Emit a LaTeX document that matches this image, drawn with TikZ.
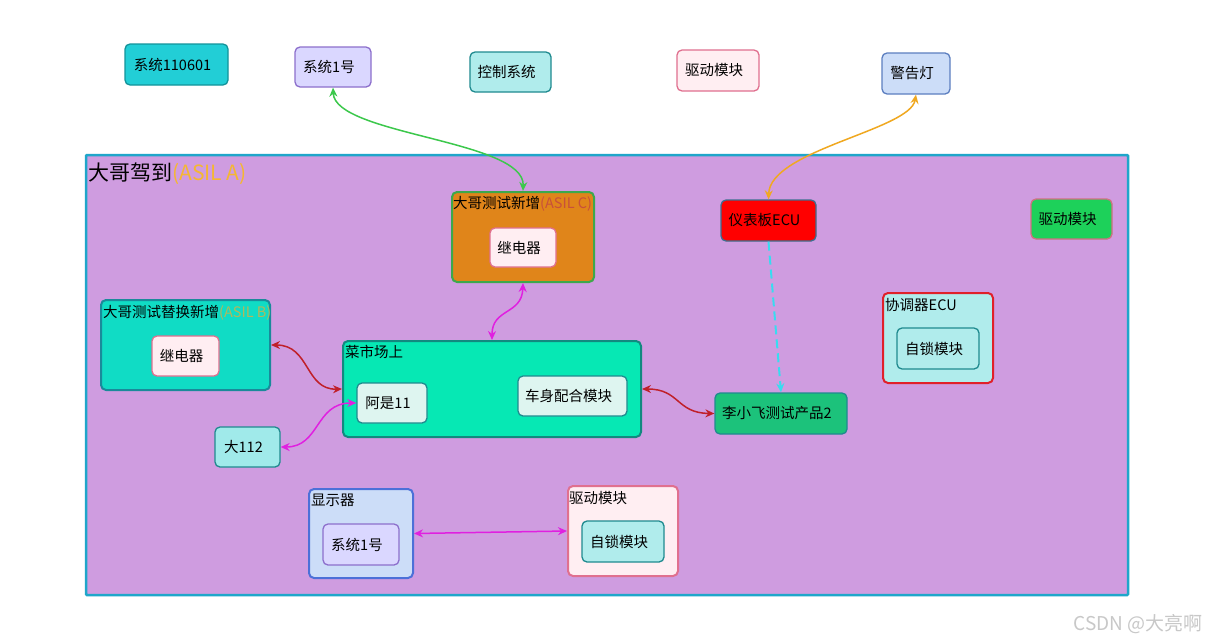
\documentclass[tikz,border=0pt]{standalone}
\usepackage{fontspec}
\setmainfont{Noto Sans CJK SC}
\usetikzlibrary{arrows.meta}
\definecolor{bigfill}{HTML}{CF9CE0}
\definecolor{bigline}{HTML}{1FA6CA}
\definecolor{asilA}{HTML}{F5B731}
\definecolor{asilB}{HTML}{B0B85C}
\definecolor{asilC}{HTML}{C8503A}
\definecolor{turq}{HTML}{22CED6}
\definecolor{turqd}{HTML}{13939A}
\definecolor{lav}{HTML}{DAD7FF}
\definecolor{lavd}{HTML}{8C6FCC}
\definecolor{pcyan}{HTML}{B0ECEC}
\definecolor{pcyand}{HTML}{1F8A8F}
\definecolor{pink}{HTML}{FFEEF2}
\definecolor{pinkd}{HTML}{E0708F}
\definecolor{lblue}{HTML}{CCDDF8}
\definecolor{lblued}{HTML}{5C7FC0}
\definecolor{dblue}{HTML}{4C70D8}
\definecolor{orng}{HTML}{E0851A}
\definecolor{grn}{HTML}{3DA84C}
\definecolor{ecured}{HTML}{FF0000}
\definecolor{ecub}{HTML}{3C6E8F}
\definecolor{drvg}{HTML}{1DD15A}
\definecolor{drvb}{HTML}{D0707F}
\definecolor{bfill}{HTML}{10DCC5}
\definecolor{bline}{HTML}{1A8A9A}
\definecolor{mint}{HTML}{06E8B4}
\definecolor{mintd}{HTML}{12897F}
\definecolor{lmint}{HTML}{DEF5F0}
\definecolor{lxf}{HTML}{1CC27B}
\definecolor{coord}{HTML}{E0202A}
\definecolor{d112}{HTML}{A0EAEA}
\definecolor{lgreen}{HTML}{3CC84C}
\definecolor{lorange}{HTML}{F0A820}
\definecolor{magen}{HTML}{E020E0}
\definecolor{dred}{HTML}{C0202A}
\definecolor{lcyan}{HTML}{38DCF0}
\definecolor{wm}{HTML}{C8C8C8}
\begin{document}
\begin{tikzpicture}[x=1pt,y=-1pt,
  box/.style={draw, rounded corners=5pt, line width=1.3pt, inner sep=0pt, text=black,
    font=\fontsize{14.5}{17}\selectfont, execute at end node={\hspace*{8pt}}},
  cont/.style={draw, rounded corners=5pt, line width=2pt, inner sep=0pt},
  ttl/.style={anchor=base west, inner sep=0pt, text=black, font=\fontsize{14.5}{17}\selectfont},
  link/.style={line width=1.5pt, {Stealth[length=9pt,width=8pt]}-{Stealth[length=9pt,width=8pt]}}
]
\useasboundingbox (0,0) rectangle (1207,640);
\fill[white] (0,0) rectangle (1207,640);

% big container
\node[draw=bigline, fill=bigfill, line width=2.5pt, rounded corners=1pt, minimum width=1042pt, minimum height=440pt, inner sep=0pt] (big) at (607,375) {};
\node[anchor=base west, inner sep=0pt, font=\fontsize{21}{25}\selectfont] (bigt) at (88,180) {大哥驾到\textcolor{asilA}{(ASIL A)}};

% top row
\node[box, fill=turq, draw=turqd, minimum width=103pt, minimum height=41pt] (s0) at (176.5,64.5) {系统110601};
\node[box, fill=lav, draw=lavd, minimum width=76pt, minimum height=40pt] (s1) at (333,67) {系统1号};
\node[box, fill=pcyan, draw=pcyand, minimum width=81pt, minimum height=40pt] (ctl) at (510.5,72) {控制系统};
\node[box, fill=pink, draw=pinkd, minimum width=82pt, minimum height=41pt] (drv0) at (718,70.5) {驱动模块};
\node[box, fill=lblue, draw=lblued, minimum width=68pt, minimum height=41pt] (warn) at (916,73.5) {警告灯};

% ASIL C container
\node[cont, fill=orng, draw=grn, minimum width=142pt, minimum height=90pt] (cC) at (523,237) {};
\node[ttl] (cCt) at (453,208) {大哥测试新增\textcolor{asilC}{(ASIL C)}};
\node[box, fill=pink, draw=pinkd, minimum width=66pt, minimum height=39pt] (relC) at (523,247.5) {继电器};

% ECU
\node[box, fill=ecured, draw=ecub, minimum width=95pt, minimum height=41pt] (ecu) at (768.5,220.5) {仪表板ECU};
\node[box, fill=drvg, draw=drvb, minimum width=81pt, minimum height=40pt] (drv1) at (1071.5,219) {驱动模块};

% ASIL B container
\node[cont, fill=bfill, draw=bline, minimum width=169pt, minimum height=90pt] (cB) at (185.5,345) {};
\node[ttl] (cBt) at (103,317) {大哥测试替换新增\textcolor{asilB}{(ASIL B)}};
\node[box, fill=pink, draw=pinkd, minimum width=67pt, minimum height=40pt] (relB) at (185.5,356) {继电器};

% market container
\node[cont, fill=mint, draw=mintd, minimum width=298pt, minimum height=96pt] (mk) at (492,389) {};
\node[ttl] (mkt) at (345,357) {菜市场上};
\node[box, fill=lmint, draw=pcyand, minimum width=70pt, minimum height=40pt] (as) at (392,403) {阿是11};
\node[box, fill=lmint, draw=pcyand, minimum width=109pt, minimum height=40pt] (cs) at (572.5,396) {车身配合模块};

% Li Xiaofei
\node[box, fill=lxf, draw=pcyand, minimum width=132pt, minimum height=41pt] (lxf) at (781,413.5) {李小飞测试产品2};

% coordinator ECU
\node[cont, fill=pcyan, draw=coord, minimum width=110pt, minimum height=90pt] (co) at (938,338) {};
\node[ttl] (cot) at (885,310) {协调器ECU};
\node[box, fill=pcyan, draw=pcyand, minimum width=82pt, minimum height=41pt] (zs0) at (938,348.5) {自锁模块};

% 大112
\node[box, fill=d112, draw=pcyand, minimum width=65pt, minimum height=40pt] (d112) at (247.5,447) {大112};

% display container
\node[cont, fill=lblue, draw=dblue, minimum width=104pt, minimum height=89pt] (dsp) at (361,533.5) {};
\node[ttl] (dspt) at (311,505) {显示器};
\node[box, fill=lav, draw=lavd, minimum width=76pt, minimum height=41pt] (s2) at (361,544.5) {系统1号};

% drive container
\node[cont, fill=pink, draw=pinkd, minimum width=110pt, minimum height=90pt] (drv2) at (623,531) {};
\node[ttl] (drv2t) at (569,503) {驱动模块};
\node[box, fill=pcyan, draw=pcyand, minimum width=82pt, minimum height=41pt] (zs1) at (623,541.5) {自锁模块};

% connectors
\draw[link, draw=lgreen] (s1.south) .. controls (335,135) and (525,140) .. (cC.north);
\draw[link, draw=lorange] (warn.south) .. controls (910,130) and (770,150) .. (ecu.north);
\draw[link, draw=magen] (cC.south) .. controls (522,315) and (492,308) .. (mk.north);
\draw[link, draw=dred] (cB.east) .. controls (310,345) and (305,390) .. (mk.west);
\draw[link, draw=magen] (d112.east) .. controls (320,447) and (315,403) .. (as.west);
\draw[link, draw=dred] (mk.east) .. controls (680,389) and (676,413) .. (lxf.west);
\draw[line width=2pt, draw=lcyan, dash pattern=on 9pt off 5pt, -{Stealth[length=9pt,width=8pt]}] (ecu.south) -- (lxf.north);
\draw[link, draw=magen] (dsp.east) -- (drv2.west);

% watermark
\node[anchor=base east, inner sep=0pt, text=wm, font=\fontsize{19}{22}\selectfont] (wmk) at (1203,630) {CSDN @大亮啊};
\end{tikzpicture}
\end{document}
